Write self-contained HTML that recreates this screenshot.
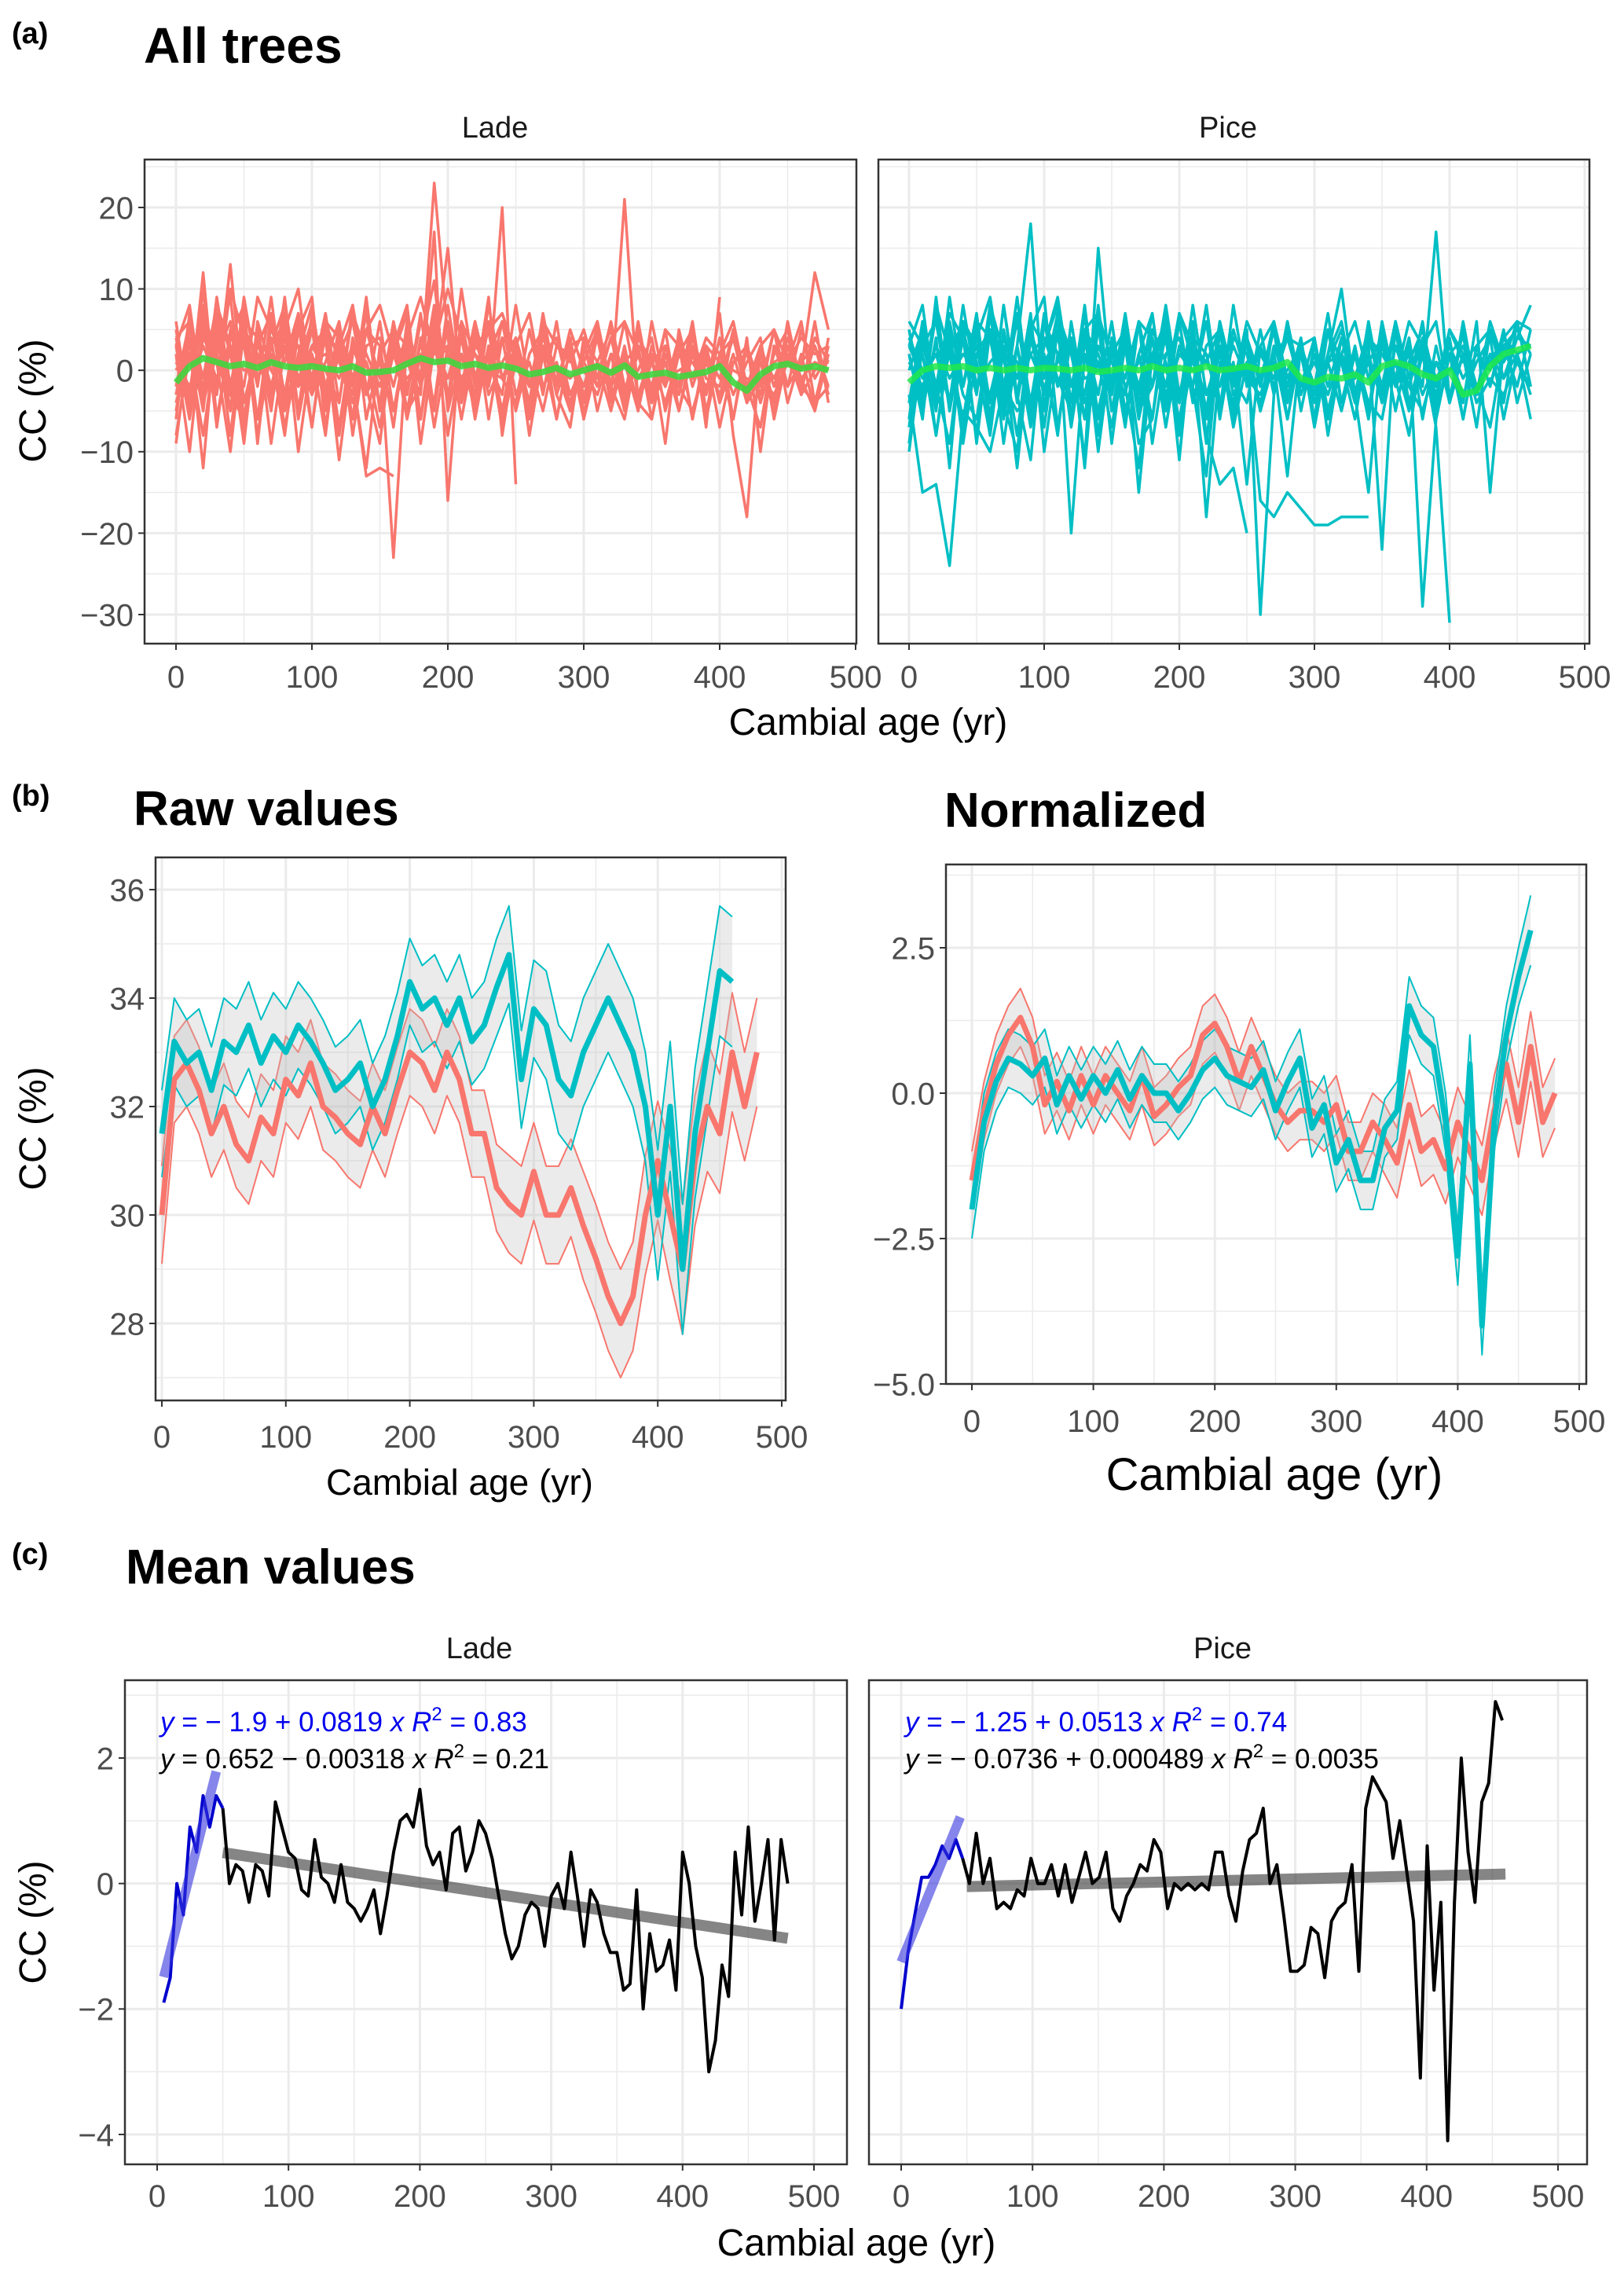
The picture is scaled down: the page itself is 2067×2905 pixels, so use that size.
<!DOCTYPE html>
<html><head><meta charset="utf-8"><style>
html,body{margin:0;padding:0;background:#fff;}
svg{display:block;font-family:"Liberation Sans",sans-serif;}
</style></head><body>
<svg id="fig" width="2067" height="2905" viewBox="0 0 2067 2905" xmlns="http://www.w3.org/2000/svg">
<text x="15" y="55" font-size="38" font-weight="bold">(a)</text>
<text x="183" y="80" font-size="64" font-weight="bold">All trees</text>
<text x="630" y="175" font-size="38" text-anchor="middle" fill="#1a1a1a">Lade</text>
<text x="1563" y="175" font-size="38" text-anchor="middle" fill="#1a1a1a">Pice</text>
<text x="1105" y="935" font-size="48" text-anchor="middle">Cambial age (yr)</text>
<text transform="translate(58,510) rotate(-90)" font-size="48" text-anchor="middle">CC (%)</text>

<text x="15" y="1025" font-size="38" font-weight="bold">(b)</text>
<text x="170" y="1050" font-size="62" font-weight="bold">Raw values</text>
<text x="1202" y="1052" font-size="62" font-weight="bold">Normalized</text>
<text x="585" y="1902" font-size="46" text-anchor="middle">Cambial age (yr)</text>
<text x="1622" y="1896" font-size="58" text-anchor="middle">Cambial age (yr)</text>
<text transform="translate(58,1436) rotate(-90)" font-size="48" text-anchor="middle">CC (%)</text>

<text x="15" y="1990" font-size="38" font-weight="bold">(c)</text>
<text x="160" y="2015" font-size="62" font-weight="bold">Mean values</text>
<text x="610" y="2110" font-size="38" text-anchor="middle" fill="#1a1a1a">Lade</text>
<text x="1556" y="2110" font-size="38" text-anchor="middle" fill="#1a1a1a">Pice</text>
<text x="1090" y="2870" font-size="48" text-anchor="middle">Cambial age (yr)</text>
<text transform="translate(58,2446) rotate(-90)" font-size="48" text-anchor="middle">CC (%)</text>
</svg>
<script>
// ---------- data ----------
const xTicks = [0,100,200,300,400,500];
const yTicksA = [-30,-20,-10,0,10,20];
const yTicksBraw = [28,30,32,34,36];
const yTicksBnorm = [-5.0,-2.5,0.0,2.5];
const yTicksBnormLabels = ["\u22125.0","\u22122.5","0.0","2.5"];
const yTicksC = [-4,-2,0,2];

const ladeTrees = [
[-8,2,5,-3,10,4,-6,3,8,-2,5,-4,2,6,-3,1,-5,4,9,2,15,-3,4,-2,6,1,-4,3,-2,5,0,-3,2,-5,4,1,-2,3,-6,2,-1,4,-3,1,-5,3,0,12,5],
[5,-4,12,-6,3,-9,6,0,-3,7,-2,4,-8,3,1,-4,6,-2,3,11,-5,2,-3,8,-1,3,-6,2,4,-3,1,5,-2,-6,3,1,-4,2,5,-3,7,-8,-18,3,-2,4,-1,-5,2],
[0,3,-2,6,-5,9,-1,4,-7,2,8,-3,5,-1,-12,3,-23,4,-2,6,-4,10,-1,2,-5,3,7,-2,1,-4,3,-1,6,-2,0,4,-5,2,-1,3,-4,1,2,-3,5,-2,1,3,-2],
[3,-6,4,1,-10,5,2,-3,6,-1,3,0,-4,7,2,-2,4,1,-3,17,-16,6,2,-2,20,-14],
[-3,5,-1,8,2,-7,4,-2,5,10,-3,1,6,-8,3,4,-2,5,-1,23,4,-6,3,1,-3,8,-2,4,0,-5,2,6,-3,21,-4,1,3,-2,5,-7,9],
[2,-10,6,-2,13,-4,3,7,-5,1,-3,4,-11,2,5,-1,3,-6,2,-4,8,-2,5,-3,1,4,-8,2,-1,3,-4,6,-2,1,-5,3,-2,4,-1,2,-7,1,3,-4,2,5,-3,0,1],
[-5,4,-12,7,-3,5,-8,3,6,-10,2,-4,5,-1,-13,-12,-13],
[1,-2,3,-1,2,0,1,-3,4,-2,1,2,-1,3,-2,0,2,-1,1,2,3,-1,2,0,-1,1,-2,2,0,-1,1,-2,0,1,-1,2,-1,0,1,-2,1,0,-1,-2,1,2,-1,1,0],
[4,-3,7,2,-5,6,-2,9,-4,1,6,-5,3,8,-2,-9,5,3,-6,4,2,-3,6,-1,4,-5,2,5,-3,-7,4,1,-2,6,-3,2,-9,5,-2,3,1,-6,4,-10,3,1,6,-4,3],
[-2,6,-4,3,9,-6,2,-4,5,3,-7,6,1,-3,9,-5,2,7,-9,3,-1,5,-4,2,6,-3,1,-5,3,2,-2,4,-4,1,3,-6,2,-3,4,-1,-2,5,-4,2,-1,3,-2,4,1],
[6,-5,8,-7,5,3,-6,7,-4,6,-7,5,2,-6,8,-5,4,-3,7,-5,6,-4,3,5,-6,4,-5,6,-3,2,-6,5,-4,3,-5,6,-2,4,-6,3,-4,5,-3,2,-4,6,-2,3,-3],
[-6,7,-3,5,-8,6,4,-5,7,-6,3,5,-7,4,-3,6,-5,2,-6,7,-4,5,-6,3,-5,4,-2,5,-6,3,4,-5,2,-4,6,-3,5,-5,2,-3,4,-6,3,-2,5,-4,2,-5,4],
[3,8,-4,2,6,-8,5,-3,9,-5,7,-2,4,-6,5,3,-7,6,-2,8,-3,4,-5,6,-1,-4,5,-3,6,-5,3,-2,4,-3,5,-4,1,-5,3,-6,2,4,-2,-7,3,-2,5,-1,2],
[-9,4,-5,9,-2,7,-6,2,-8,5,-1,7,-4,8,-6,2,5,-5,4,-7,3,-2,6,-6,4,2,-5,3,-2,4,-6,1,5,-3,2,-4,3,-2,6,-5,2,-3,1,4,-6,2,-3,6,-4],
[2,-3,10,-6,4,8,-9,6,-3,5,9,-7,4,-2,7,-5,3,8,-6,5,-4,6,-2,9,-8,3,-4,7,-2,4,-5],
[-4,2,-8,4,-3,-6,5,-9,3,-5,2,-8,6,-4,1,-7,3,-5,-2,4,-8,2,-5,3,-7,1,-4,2,-6,3,-3,1,-5,2,-4,-6,3,-2,-5,1,-3,2,-4,-1,-3,1,-2,-4,-2],
[4,6,-1,8,3,-2,9,5,1,7,-2,6,4,-1,5,8,2,-3,6,3,10,4,-1,5,7,2,-2,6,3,1,5,-1,4,6,2,-2,5,3,-1,4,2,6,-2,3,5,1,4,2,3]
];
const ladeMean = [-1.5,0.5,1.5,1.0,0.5,0.8,0.3,1.0,0.5,0.3,0.5,0.2,0.0,0.5,-0.3,-0.2,0.0,0.8,1.5,1.0,1.2,0.5,0.8,0.3,0.6,0.2,-0.5,-0.2,0.3,-0.5,0.0,0.5,-0.3,0.6,-0.8,-0.5,-0.3,-0.8,-0.5,-0.2,0.5,-1.5,-2.5,-0.5,0.5,0.8,0.2,0.5,0.0];

const piceTrees = [
[-10,3,6,-4,8,-2,5,-6,3,18,-5,7,2,-3,6,-9,4,-2,5,1,-4,8,-3,2,-6,4,-1,5,-2,3,-7,2,6,-3,1,4,-5,3,-2,17,-4,6,-3,2,-1,4,8],
[2,-5,4,-12,6,1,-8,5,-3,7,-10,2,4,-6,3,-1,5,-15,2,6,-3,4,-18,1,-4,5,-30,-3,6,-2,4,-8,2,-1,5,-3,1,-2,4,-1,2,-6,3,5,-1,2,-6],
[-3,-15,-14,-24,-5,-7,-10,-2,-5,-3],
[4,0,-3,6,-2,5,-7,3,1,-4,6,-2,3,-11,15,-3,5,-6,2,-4,7,1,-3,2,-5,4,-2,6,-1,3,-4,2,10,-3,-15,4,-2,3,-29,-6,2,-4,6,-15,3,5,2],
[0,5,-8,3,-2,6,-4,2,-12,4,-3,7,-20,2,-5,3,-1,6,-9,2,4,-2,-13,5,-3,1,-16,-18,-15,-17,-19,-19,-18,-18,-18],
[1,-2,3,-1,2,0,-3,4,-1,2,-2,1,3,-1,0,2,-2,1,4,-3,2,0,1,-2,3,-1,2,-1,0,3,-2,1,2,-3,1,4,-1,2,-3,1,0,3,-2,1,4,2,3],
[-6,6,-3,4,-9,2,5,-4,3,-7,1,4,-2,5,-10,3,-6,2,7,-5,3,-2,8,-4,1,-14,3,-2,5,-3,2,-6,4,-1,3,-22,6,-4,2,-7,-31],
[3,-1,2,-4,5,-2,1,3,-3,2,4,-1,-5,3,1,-2,6,-3,2,0,-4,3,1,-2,5,-1,-3,2,4,-2,1,-3,2,6,-1,3,-2,1,5,-2,3,-1,2,0,4,1,-2],
[-4,6,-2,-9,5,3,-6,8,-3,-11,6,2,-4,7,-8,4,-2,-12,5,1,-6,3,-9,6,-2,4,-5,1,-13,3,-2,7,-4,2,-6,5,-1,-8,3,6,-4,2,-7,5,1,6,-2],
[5,-3,8,2,-6,4,9,-2,6,-4,3,8,-6,5,2,-3,7,-4,1,6,-7,4,2,-5,8,-2,3,6,-4,2,-3,5,1,-6,4,-2,6,-1,3,-4,5,2,-3,6,1,4,3],
[5,-4,7,-5,6,3,-6,8,-4,6,-7,5,2,-6,8,-5,4,-3,7,-5,6,-4,3,5,-6,4,-5,6,-3,2,-6,5,-4,3,-5,6,-2,4,-6,3,-4,5,-3,2,-4,6,-2],
[-7,6,-3,5,-8,6,4,-5,7,-6,3,5,-7,4,-3,6,-5,2,-6,7,-4,5,-6,3,-5,4,-2,5,-6,3,4,-5,2,-4,6,-3,5,-5,2,-3,4,-6,3,-2,5,-4,2],
[3,8,-4,2,6,-9,5,-3,9,-5,7,-2,4,-6,5,3,-7,6,-2,8,-3,4,-5,6,-1,-4,5,-3,6,-5,3,-2,4,-3,5,-4,1,-5,3,-6,2,4,-2,-7,3,-2,5],
[-9,4,-5,9,-2,7,-6,2,-8,5,-1,7,-4,8,-6,2,5,-5,4,-7,3,-2,6,-6,4,2,-5,3,-2,4,-6,1,5,-3,2,-4,3,-2,6,-5,2,-3,1,4,-6,2,-3],
[2,-6,9,-5,4,-8,7,-4,-10,5,9,-7,4,-12,7,-5,3,-9,-6,5,-11,6,-8,-14,-12,-20],
[-4,2,-8,4,-3,-6,5,-9,3,-5,2,-8,6,-4,1,-7,3,-5,-2,4,-8,2,-5,3,-7,1,-4,2,-6,3,-3,1,-5,2,-4,-6,3,-2,-5,1,-3,2,-4,-1,-3,1,-2],
[6,3,-2,7,4,-3,8,2,-1,6,3,9,-2,5,7,1,-3,6,4,-2,7,3,1,5,-2,6,2,-1,4,3,-2,5,1,-3,4,2,-1,6,3,-2,5,1,3,-2,4,6,5]
];
const piceMean = [-1.5,0.0,0.5,0.3,0.5,0.0,0.3,0.0,0.3,0.0,0.3,0.2,0.0,0.3,-0.2,0.0,0.3,0.0,0.5,0.0,0.3,0.0,0.5,0.0,0.2,0.5,0.0,0.3,1.0,-1.0,-1.5,-0.8,-1.0,-0.5,-1.5,0.5,1.0,0.5,-0.5,-1.0,0.0,-3.0,-2.5,0.5,2.0,2.5,3.0];

const rawLade = [30.0,32.5,32.8,32.3,31.5,32.0,31.3,31.0,31.8,31.5,32.5,32.2,32.8,32.0,31.8,31.5,31.3,32.0,31.5,32.3,33.0,32.8,32.3,33.0,32.5,31.5,31.5,30.5,30.2,30.0,30.8,30.0,30.0,30.5,29.8,29.2,28.5,28.0,28.5,30.0,31.0,30.0,29.0,31.0,32.0,31.5,33.0,32.0,33.0];
const rawLadeSpread = [0.9,0.8,0.8,0.8,0.8,0.8,0.8,0.8,0.8,0.8,0.8,0.8,0.8,0.8,0.8,0.8,0.8,0.8,0.8,0.8,0.8,0.8,0.8,0.8,0.8,0.8,0.8,0.8,0.9,0.9,0.9,0.9,0.9,0.9,1.0,1.0,1.0,1.0,1.0,1.1,1.1,1.2,1.2,1.2,1.2,1.1,1.1,1.0,1.0];
const rawPice = [31.5,33.2,32.8,33.0,32.3,33.2,33.0,33.5,32.8,33.3,33.0,33.5,33.2,32.8,32.3,32.5,32.8,32.0,32.5,33.3,34.3,33.8,34.0,33.5,34.0,33.2,33.5,34.2,34.8,32.5,33.8,33.5,32.5,32.2,33.0,33.5,34.0,33.5,33.0,32.0,30.0,32.0,29.0,31.5,33.0,34.5,34.3];
const rawPiceSpread = [0.8,0.8,0.8,0.8,0.8,0.8,0.8,0.8,0.8,0.8,0.8,0.8,0.8,0.8,0.8,0.8,0.8,0.8,0.8,0.8,0.8,0.8,0.8,0.8,0.8,0.8,0.8,0.9,0.9,0.9,0.9,1.0,1.0,1.0,1.0,1.0,1.0,1.0,1.0,1.0,1.2,1.2,1.2,1.2,1.2,1.2,1.2];
const normLade = [-1.5,-0.3,0.5,1.0,1.3,0.8,-0.2,0.2,-0.3,0.3,-0.2,0.3,0.0,-0.3,0.3,-0.4,-0.2,0.1,0.3,1.0,1.2,0.8,0.2,0.8,0.3,-0.2,-0.5,-0.3,-0.3,-0.5,-0.2,-1.0,-1.0,-0.5,-0.8,-1.2,-0.2,-1.0,-0.8,-1.3,-0.5,-1.0,-1.5,-0.3,0.5,-0.5,0.8,-0.5,0.0];
const normLadeSpread = [0.5,0.5,0.5,0.5,0.5,0.5,0.5,0.5,0.5,0.5,0.5,0.5,0.5,0.5,0.5,0.5,0.5,0.5,0.5,0.5,0.5,0.5,0.5,0.5,0.5,0.5,0.5,0.5,0.5,0.5,0.5,0.5,0.5,0.5,0.6,0.6,0.6,0.6,0.6,0.6,0.6,0.6,0.6,0.6,0.6,0.6,0.6,0.6,0.6];
const normPice = [-2.0,-0.5,0.2,0.6,0.5,0.3,0.6,-0.2,0.3,-0.1,0.3,0.0,0.4,-0.1,0.3,0.0,0.0,-0.3,0.0,0.4,0.6,0.3,0.2,0.1,0.4,-0.3,0.2,0.6,-0.6,-0.2,-1.2,-0.8,-1.5,-1.5,-0.6,-0.3,1.5,1.0,0.8,-0.5,-2.8,0.5,-4.0,-0.5,1.0,2.0,2.8];
const normPiceSpread = [0.5,0.5,0.5,0.5,0.5,0.5,0.5,0.5,0.5,0.5,0.5,0.5,0.5,0.5,0.5,0.5,0.5,0.5,0.5,0.5,0.5,0.5,0.5,0.5,0.5,0.5,0.5,0.5,0.5,0.5,0.5,0.5,0.5,0.5,0.5,0.5,0.5,0.5,0.5,0.5,0.5,0.5,0.5,0.5,0.5,0.5,0.6];

const meanLadeC = [-1.9,-1.5,0.0,-0.5,0.9,0.5,1.4,0.9,1.4,1.2,0.0,0.3,0.2,-0.3,0.3,0.2,-0.2,1.3,0.9,0.5,0.4,-0.1,-0.2,0.7,0.1,0.0,-0.3,0.3,-0.3,-0.4,-0.6,-0.4,-0.1,-0.8,-0.2,0.5,1.0,1.1,0.9,1.5,0.6,0.3,0.5,-0.1,0.8,0.9,0.2,0.5,1.0,0.8,0.4,-0.2,-0.8,-1.2,-1.0,-0.5,-0.3,-0.4,-1.0,-0.2,0.0,-0.4,0.5,-0.2,-1.0,-0.1,-0.3,-0.8,-1.1,-1.1,-1.7,-1.6,-0.1,-2.0,-0.8,-1.4,-1.3,-0.9,-1.7,0.5,0.0,-1.0,-1.5,-3.0,-2.5,-1.3,-1.8,0.5,-0.5,0.9,-0.6,0.0,0.7,-0.9,0.7,0.0];
const meanPiceC = [-2.0,-1.1,-0.5,0.1,0.1,0.3,0.6,0.4,0.7,0.4,0.0,0.8,0.0,0.4,-0.4,-0.3,-0.4,-0.1,-0.2,0.4,0.0,0.0,0.3,-0.2,0.3,-0.3,0.1,0.5,0.0,0.1,0.5,-0.4,-0.6,-0.2,0.0,0.3,0.2,0.7,0.5,-0.4,0.0,-0.1,0.0,-0.1,0.0,-0.1,0.5,0.5,-0.2,-0.6,0.2,0.7,0.8,1.2,0.0,0.3,-0.5,-1.4,-1.4,-1.3,-0.7,-0.8,-1.5,-0.6,-0.4,-0.3,0.3,-1.4,1.2,1.7,1.5,1.3,0.4,1.0,0.2,-0.6,-3.1,0.6,-1.7,-0.3,-4.1,-0.3,2.0,0.5,-0.3,1.3,1.6,2.9,2.6];
const fitLadeEarly = {a:-1.9,b:0.0819,from:5,to:45};
const fitLadeLate = {a:0.652,b:-0.00318,from:50,to:480};
const fitPiceEarly = {a:-1.25,b:0.0513,from:0,to:45};
const fitPiceLate = {a:-0.0736,b:0.000489,from:50,to:460};

// ---------- drawing ----------
const NS="http://www.w3.org/2000/svg";
const svg=document.getElementById('fig');
function el(tag,attrs,parent){const e=document.createElementNS(NS,tag);for(const k in attrs)e.setAttribute(k,attrs[k]);(parent||svg).appendChild(e);return e;}
function lin(v0,p0,v1,p1){return v=>p0+(v-v0)*(p1-p0)/(v1-v0);}

function panel(name,box,sx,sy,yt,ytl,yMinorStep,showY,tickFont,tickY){
  const g=el('g',{});
  
  
  el('rect',{x:box[0],y:box[1],width:box[2]-box[0],height:box[3]-box[1],fill:'#fff'},g);
  for(let v=-50;v<=550;v+=50){const x=sx(v);if(x<box[0]+2||x>box[2]-2)continue;
    const l=el('line',{x1:x,x2:x,y1:box[1],y2:box[3],stroke:'#ebebeb','stroke-width':v%100===0?3:1.5},g);
    }
  const ymin=Math.min(...yt)-2*yMinorStep, ymax=Math.max(...yt)+2*yMinorStep;
  for(let v=ymin;v<=ymax+1e-9;v+=yMinorStep){const y=sy(v);if(y<box[1]+2||y>box[3]-2)continue;
    const major=yt.some(t=>Math.abs(t-v)<1e-6);
    const l=el('line',{x1:box[0],x2:box[2],y1:y,y2:y,stroke:'#ebebeb','stroke-width':major?3:1.5},g);
    }
  xTicks.forEach(t=>{const x=sx(t);
    el('line',{x1:x,x2:x,y1:box[3],y2:box[3]+8,stroke:'#333','stroke-width':2},g);
    const tx=el('text',{x:x,y:tickY,'font-size':tickFont,'text-anchor':'middle',fill:'#4d4d4d'},g);
    tx.textContent=t;
    });
  if(showY) yt.forEach((t,i)=>{const y=sy(t);
    el('line',{x1:box[0]-8,x2:box[0],y1:y,y2:y,stroke:'#333','stroke-width':2},g);
    const tx=el('text',{x:box[0]-14,y:y+tickFont*0.36,'font-size':tickFont,'text-anchor':'end',fill:'#4d4d4d'},g);
    tx.textContent=ytl?ytl[i]:String(t).replace('-','\u2212');
    });
  return g;
}
function border(box){const r=el('rect',{x:box[0],y:box[1],width:box[2]-box[0],height:box[3]-box[1],fill:'none',stroke:'#333','stroke-width':2.5});
  }
function path(vals,sx,sy,step,start,attrs,name,parent){
  let d='';vals.forEach((v,i)=>{d+=(i?'L':'M')+sx(start+i*step).toFixed(1)+','+sy(v).toFixed(1);});
  const p=el('path',Object.assign({d:d,fill:'none','stroke-linejoin':'round'},attrs),parent);
  return p;}

// Panel (a)
const aBoxL=[184,203,1090,819], aBoxR=[1118,203,2023,819];
const sxAL=lin(0,224,100,397), sxAR=lin(0,1157,500,2017), syA=lin(20,264,-30,782);
panel('lade-all-trees-plot',aBoxL,sxAL,syA,yTicksA,null,5,true,40,875);
panel('pice-all-trees-plot',aBoxR,sxAR,syA,yTicksA,null,5,false,40,875);
ladeTrees.forEach(s=>path(s,sxAL,syA,10,0,{stroke:'#f8766d','stroke-width':3.5},'lade-tree-line'));
path(ladeMean,sxAL,syA,10,0,{stroke:'#3ed63e','stroke-width':8,'stroke-opacity':0.9},'lade-mean-line');
piceTrees.forEach(s=>path(s,sxAR,syA,10,0,{stroke:'#00bfc4','stroke-width':3.5},'pice-tree-line'));
path(piceMean,sxAR,syA,10,0,{stroke:'#1ee84a','stroke-width':8,'stroke-opacity':0.85},'pice-mean-line');
border(aBoxL);border(aBoxR);

// Panel (b)
function ribbon(mean,spread,sx,sy,step,color,name){
  let d='';mean.forEach((v,i)=>{d+=(i?'L':'M')+sx(i*step).toFixed(1)+','+sy(v+spread[i]).toFixed(1);});
  for(let i=mean.length-1;i>=0;i--){d+='L'+sx(i*step).toFixed(1)+','+sy(mean[i]-spread[i]).toFixed(1);}
  const p=el('path',{d:d+'Z',fill:'#bdbdbd','fill-opacity':0.3,stroke:'none'});
  
  path(mean.map((v,i)=>v+spread[i]),sx,sy,step,0,{stroke:color,'stroke-width':2},name+'-upper');
  path(mean.map((v,i)=>v-spread[i]),sx,sy,step,0,{stroke:color,'stroke-width':2},name+'-lower');
}
const bBoxL=[198,1091,1000,1782], bBoxR=[1204,1100,2019,1761];
const sxBL=lin(0,206,500,995), syBL=lin(36,1132,28,1684);
const sxBR=lin(0,1237,500,2010), syBR=lin(2.5,1206,-5,1761);
panel('raw-values-plot',bBoxL,sxBL,syBL,yTicksBraw,null,1,true,40,1842);
panel('normalized-plot',bBoxR,sxBR,syBR,yTicksBnorm,yTicksBnormLabels,1.25,true,40,1822);
ribbon(rawLade,rawLadeSpread,sxBL,syBL,10,'#f8766d','raw-lade');
ribbon(rawPice,rawPiceSpread,sxBL,syBL,10,'#00bfc4','raw-pice');
path(rawLade,sxBL,syBL,10,0,{stroke:'#f8766d','stroke-width':7},'raw-lade-mean');
path(rawPice,sxBL,syBL,10,0,{stroke:'#00bfc4','stroke-width':7},'raw-pice-mean');
ribbon(normLade,normLadeSpread,sxBR,syBR,10,'#f8766d','norm-lade');
ribbon(normPice,normPiceSpread,sxBR,syBR,10,'#00bfc4','norm-pice');
path(normLade,sxBR,syBR,10,0,{stroke:'#f8766d','stroke-width':7},'norm-lade-mean');
path(normPice,sxBR,syBR,10,0,{stroke:'#00bfc4','stroke-width':7},'norm-pice-mean');
border(bBoxL);border(bBoxR);

// Panel (c)
const cBoxL=[159,2138,1078,2754], cBoxR=[1106,2138,2020,2754];
const sxCL=lin(0,200,500,1036), sxCR=lin(0,1147,500,1983), syC=lin(2,2237,-4,2716);
panel('lade-mean-plot',cBoxL,sxCL,syC,yTicksC,null,1,true,40,2808);
panel('pice-mean-plot',cBoxR,sxCR,syC,yTicksC,null,1,false,40,2808);
function fit(f,sx,color,w,name){const l=el('line',{x1:sx(f.from),x2:sx(f.to),y1:syC(f.a+f.b*f.from),y2:syC(f.a+f.b*f.to),stroke:color,'stroke-width':w,'stroke-opacity':0.6});
  }
fit(fitLadeLate,sxCL,'#333',14,'lade-late-fit');
fit(fitPiceLate,sxCR,'#333',14,'pice-late-fit');
const ladeSplit=10, piceSplit=10;
path(meanLadeC.slice(ladeSplit-1),sxCL,syC,5,5+(ladeSplit-1)*5,{stroke:'#000','stroke-width':4},'lade-late-mean');
path(meanLadeC.slice(0,ladeSplit),sxCL,syC,5,5,{stroke:'#0000cd','stroke-width':4},'lade-early-mean');
const piceStep=5.2;
path(meanPiceC.slice(piceSplit-1),sxCR,syC,piceStep,(piceSplit-1)*piceStep,{stroke:'#000','stroke-width':4},'pice-late-mean');
path(meanPiceC.slice(0,piceSplit),sxCR,syC,piceStep,0,{stroke:'#0000cd','stroke-width':4},'pice-early-mean');
fit(fitLadeEarly,sxCL,'#3333dd',12,'lade-early-fit');
fit(fitPiceEarly,sxCR,'#3333dd',12,'pice-early-fit');
function eq(x,y,color,html,name){const t=el('text',{x:x,y:y,'font-size':35,fill:color});t.innerHTML=html;
  }
eq(204,2203,'#0000ee','<tspan font-style="italic">y</tspan> = \u2212 1.9 + 0.0819 <tspan font-style="italic">x</tspan>  <tspan font-style="italic">R</tspan><tspan dy="-14" font-size="24">2</tspan><tspan dy="14"> = 0.83</tspan>','lade-early-equation');
eq(204,2250,'#000','<tspan font-style="italic">y</tspan> = 0.652 \u2212 0.00318 <tspan font-style="italic">x</tspan>  <tspan font-style="italic">R</tspan><tspan dy="-14" font-size="24">2</tspan><tspan dy="14"> = 0.21</tspan>','lade-late-equation');
eq(1152,2203,'#0000ee','<tspan font-style="italic">y</tspan> = \u2212 1.25 + 0.0513 <tspan font-style="italic">x</tspan>  <tspan font-style="italic">R</tspan><tspan dy="-14" font-size="24">2</tspan><tspan dy="14"> = 0.74</tspan>','pice-early-equation');
eq(1152,2250,'#000','<tspan font-style="italic">y</tspan> = \u2212 0.0736 + 0.000489 <tspan font-style="italic">x</tspan>  <tspan font-style="italic">R</tspan><tspan dy="-14" font-size="24">2</tspan><tspan dy="14"> = 0.0035</tspan>','pice-late-equation');
border(cBoxL);border(cBoxR);
</script>
</body></html>
